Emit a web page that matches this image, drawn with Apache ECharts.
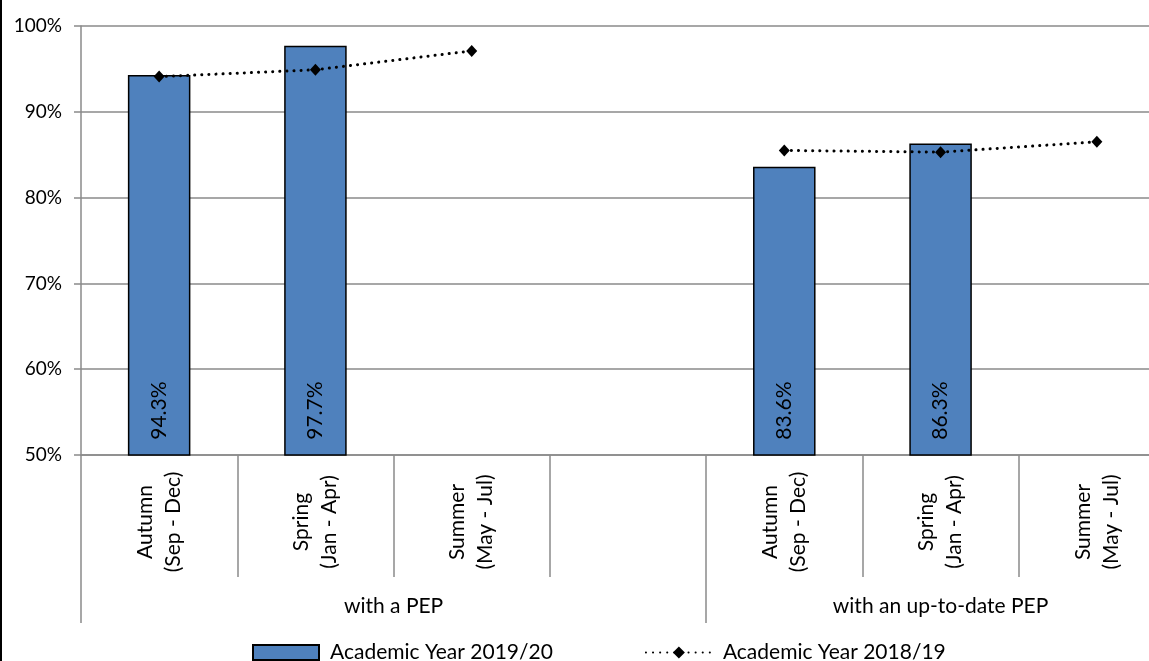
<!DOCTYPE html>
<html>
<head>
<meta charset="utf-8">
<script src="https://cdn.jsdelivr.net/npm/echarts@6/dist/echarts.min.js"></script>
<style>
html,body{margin:0;padding:0;background:#fff;overflow:hidden;width:1149px;height:661px;}
#c{position:absolute;left:0;top:0;width:1200px;height:661px;}
#edge{position:absolute;left:0;top:0;width:2px;height:661px;background:#000;}
</style>
</head>
<body>
<div id="c"></div>
<div id="edge"></div>
<script>
// ---- data ----
const categories = ['Autumn\n(Sep - Dec)', 'Spring\n(Jan - Apr)', 'Summer\n(May - Jul)', '',
                    'Autumn\n(Sep - Dec)', 'Spring\n(Jan - Apr)', 'Summer\n(May - Jul)'];
const groups = ['with a PEP', 'with an up-to-date PEP'];
const groupSpans = [4, 3];
const seriesBarName = 'Academic Year 2019/20';
const seriesLineName = 'Academic Year 2018/19';
const barValues = [94.3, 97.7, null, null, 83.6, 86.3, null];
const lineValues = [94.1, 94.9, 97.1, null, 85.5, 85.3, 86.5];
const yTicks = [50, 60, 70, 80, 90, 100];

// group boundaries & centres derived from spans
const groupBounds = [0];
groupSpans.forEach(s => groupBounds.push(groupBounds[groupBounds.length - 1] + s));
const groupCenters = groupSpans.map((s, i) => groupBounds[i] + s / 2);

const FONT = 'Lato, "Liberation Sans", sans-serif';
const GRAY = '#8a8a8a';

const chart = echarts.init(document.getElementById('c'), null, {renderer: 'canvas'});
chart.setOption({
  animation: false,
  backgroundColor: '#fff',
  textStyle: {fontFamily: FONT, color: '#000'},
  grid: {left: 81, top: 26, width: 1094, height: 429, containLabel: false},
  legend: {
    left: 247, top: 637,
    itemWidth: 66, itemHeight: 15, itemGap: 92,
    textStyle: {fontFamily: FONT, fontSize: 21, color: '#000', padding: [0, 0, 0, 6]},
    data: [
      {name: seriesBarName, icon: 'rect'},
      {name: seriesLineName}
    ]
  },
  xAxis: [
    {
      type: 'category',
      data: categories,
      boundaryGap: true,
      axisLine: {show: true, lineStyle: {color: GRAY, width: 1.5}},
      axisTick: {show: true, interval: 0, length: 122, lineStyle: {color: GRAY, width: 1.5}},
      axisLabel: {
        interval: 0, rotate: 90, align: 'center', verticalAlign: 'middle',
        margin: 67, fontSize: 21, lineHeight: 28, color: '#000', fontFamily: FONT
      },
      splitLine: {show: false}
    },
    {
      type: 'value',
      min: groupBounds[0], max: groupBounds[groupBounds.length - 1],
      position: 'bottom',
      axisLine: {show: false},
      splitLine: {show: false},
      axisTick: {show: true, customValues: groupBounds, length: 168, lineStyle: {color: GRAY, width: 1.5}},
      axisLabel: {
        customValues: groupCenters,
        formatter: v => { const i = groupCenters.indexOf(v); return i >= 0 ? groups[i] : ''; },
        margin: 141, fontSize: 21, color: '#000', fontFamily: FONT
      }
    }
  ],
  yAxis: {
    type: 'value', min: yTicks[0], max: yTicks[yTicks.length - 1], interval: 10,
    axisLine: {show: true, lineStyle: {color: GRAY, width: 1.5}},
    axisTick: {show: true, length: 7, lineStyle: {color: GRAY, width: 1.5}},
    axisLabel: {formatter: '{value}%', margin: 19, fontSize: 19, color: '#000', fontFamily: FONT},
    splitLine: {show: true, lineStyle: {color: GRAY, width: 1.5}}
  },
  series: [
    {
      name: seriesBarName,
      type: 'bar',
      xAxisIndex: 0,
      data: barValues,
      barWidth: '40%',
      itemStyle: {color: '#4F81BD', borderColor: '#000', borderWidth: 1.5},
      label: {
        show: true, position: 'insideBottom', distance: 16, rotate: 90,
        align: 'left', verticalAlign: 'middle',
        fontSize: 21, color: '#000', fontFamily: FONT,
        formatter: p => p.value == null ? '' : p.value.toFixed(1) + '%'
      },
      z: 2
    },
    {
      name: seriesLineName,
      type: 'line',
      xAxisIndex: 0,
      data: lineValues,
      connectNulls: false,
      symbol: 'diamond',
      symbolSize: [11, 12],
      itemStyle: {color: '#000'},
      lineStyle: {color: '#000', width: 3, type: [0.1, 7], cap: 'round'},
      z: 3
    }
  ]
});
</script>
</body>
</html>
